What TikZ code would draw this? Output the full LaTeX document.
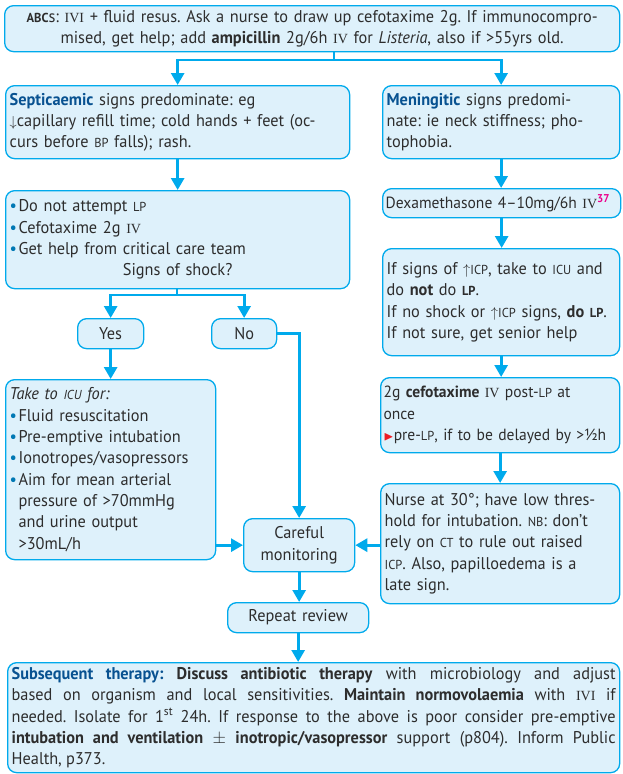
\documentclass[tikz,border=0pt]{standalone}
\usepackage{amssymb}
\usepackage{fontspec}
\setmainfont{PT Sans}[FakeStretch=0.96]
\newfontfamily\ivfont{Liberation Serif}
\usetikzlibrary{arrows.meta,positioning}
\definecolor{BoxBlue}{RGB}{222,241,251}
\definecolor{LineCyan}{RGB}{0,170,236}
\definecolor{HeadBlue}{RGB}{8,82,145}
\definecolor{DotBlue}{RGB}{0,120,180}
\definecolor{TextGray}{RGB}{45,45,45}
\definecolor{AlertRed}{RGB}{237,28,36}
\definecolor{RefPink}{RGB}{236,0,140}
\newcommand{\lsc}[1]{{\fontsize{13}{13}\selectfont #1}}
\newcommand{\ivsc}[1]{{\ivfont\fontsize{14}{14}\selectfont #1}}
\newcommand{\hd}[1]{\textcolor{HeadBlue}{\textbf{#1}}}
\newcommand{\bul}{\textcolor{DotBlue}{\textbullet}\hspace{1.5pt}}
\newcommand{\dnar}{{\fontsize{14.5}{14}\selectfont$\downarrow$}}
\newcommand{\upar}{{\fontsize{14.5}{14}\selectfont$\uparrow$}}

\begin{document}
\frenchspacing
\begin{tikzpicture}[x=1pt, y=-1pt,
		box/.style={draw=LineCyan, fill=BoxBlue, line width=1.3pt, rounded corners=9pt,
			inner xsep=4pt, inner ysep=1pt, text=TextGray, anchor=north west, align=left,
			font=\fontsize{17}{21.3}\selectfont},
		tight/.style={font=\fontsize{16.2}{21.3}\selectfont},
		flow/.style={draw=LineCyan, line width=2.8pt, -{Triangle[length=12pt,width=13pt]}},
		link/.style={draw=LineCyan, line width=2.8pt}]
	\useasboundingbox (0,0) rectangle (622,774);

	% top and the two branches
	\node[box, align=center, text width=607pt, minimum height=46pt] (abc) at (4,5)
		{{\bfseries\lsc{ABC}}s: \ivsc{IVI} + fluid resus. Ask a nurse to draw up cefotaxime 2g. If immunocompro-\\
		mised, get help; add \textbf{ampicillin} 2g/6h \ivsc{IV} for \textit{Listeria}, also if >55yrs old.};
	\node[box, text width=336pt, minimum height=73pt] (sept) at (5,85)
		{\hd{Septicaemic} signs predominate: eg\\
		\dnar capillary refill time; cold hands + feet (oc-\\
		curs before \lsc{BP} falls); rash.};
	\node[box, text width=229pt, minimum height=73pt] (men) at (382,85)
		{\hd{Meningitic} signs predomi-\\
		nate: ie neck stiffness; pho-\\
		tophobia.};

	% septicaemic side
	\node[box, text width=336pt, minimum height=98pt] (dnot) at (5,190)
		{\bul Do not attempt \lsc{LP}\\
		\bul Cefotaxime 2g \ivsc{IV}\\
		\bul Get help from critical care team\\
		\hbox to\hsize{\hfil Signs of shock?\hfil}};
	\node[box, align=center, text width=58pt, minimum height=30pt] (yes) at (77,318) {Yes};
	\node[box, align=center, text width=57pt, minimum height=30pt] (no) at (211,318) {No};
	\node[box, text width=202pt, minimum height=180pt] (icu) at (5,379)
		{\textit{Take to \lsc{ICU} for:}\\
		\bul Fluid resuscitation\\
		\bul Pre-emptive intubation\\
		\bul Ionotropes/vasopressors\\
		\bul Aim for mean arterial\\
		\phantom{\bul}pressure of >70mmHg\\
		\phantom{\bul}and urine output\\
		\phantom{\bul}>30mL/h};
	\node[box, align=center, text width=103pt, minimum height=53pt] (care) at (243,518)
		{Careful\\ monitoring};
	\node[box, align=center, text width=133pt, minimum height=30pt] (rep) at (227,602)
		{Repeat review};

	% meningitic side
	\node[box, tight, inner xsep=3pt, text width=232pt, minimum height=29pt] (dexa) at (382,188)
		{\mbox{Dexamethasone 4–10mg/6h \ivsc{IV}\textsuperscript{\textcolor{RefPink}{\textbf{37}}}}};
	\node[box, text width=229pt, minimum height=107pt] (icp) at (382,248)
		{If signs of \upar\lsc{ICP}, take to \lsc{ICU} and\\
		do \textbf{not} do \textbf{\lsc{LP}}.\\
		If no shock or \upar\lsc{ICP} signs, \textbf{do \lsc{LP}}.\\
		If not sure, get senior help};
	\node[box, tight, inner xsep=3pt, text width=233pt, minimum height=75pt] (cefo) at (380,377)
		{2g \textbf{cefotaxime} \ivsc{IV} post-\lsc{LP} at\\
		once\\
		\mbox{\textcolor{AlertRed}{\fontsize{13}{13}\selectfont$\blacktriangleright$}pre-\lsc{LP}, if to be delayed by >½h}};
	\node[box, text width=231pt, minimum height=120pt] (nurse) at (380,483)
		{Nurse at 30°; have low thres-\\
		hold for intubation. \lsc{NB}: don’t\\
		rely on \lsc{CT} to rule out raised\\
		\lsc{ICP}. Also, papilloedema is a\\
		late sign.};

	% bottom
	\node[box, align=justify, text width=604pt, minimum height=110pt] (sub) at (7,662)
		{\hd{Subsequent therapy:} \textbf{Discuss antibiotic therapy} with microbiology and adjust\linebreak
		based on organism and local sensitivities. \textbf{Maintain normovolaemia} with \ivsc{IVI} if\linebreak
		needed. Isolate for 1\textsuperscript{st} 24h. If response to the above is poor consider pre-emptive\linebreak
		\textbf{intubation and ventilation} $\pm$ \textbf{inotropic/vasopressor} support (p804). Inform Public\linebreak
		Health, p373.};

	% connectors
	\coordinate (topsplit) at (334,60);
	\draw[link] (abc.south -| topsplit) -- (topsplit);
	\draw[flow] (topsplit) -| (sept);
	\draw[flow] (topsplit) -| (men);
	\draw[flow] (sept.south) -- (sept.south |- dnot.north);
	\draw[flow] (men.south) -- (men.south |- dexa.north);
	\draw[flow] (dexa.south) -- (dexa.south |- icp.north);
	\draw[flow] (icp.south) -- (icp.south |- cefo.north);
	\draw[flow] (cefo.south) -- (cefo.south |- nurse.north);

	\coordinate (shocksplit) at (177,295);
	\draw[link] (dnot.south -| shocksplit) -- (shocksplit);
	\draw[flow] (shocksplit) -| (yes);
	\draw[flow] (shocksplit) -| (no);
	\draw[flow] (yes.south) -- (yes.south |- icu.north);
	\draw[flow] (no.east) -| (care);
	\draw[flow] (icu.east |- care.west) -- (care.west);
	\draw[flow] (nurse.west |- care.east) -- (care.east);
	\draw[flow] (care.south) -- (care.south |- rep.north);
	\draw[flow] (rep.south) -- (rep.south |- sub.north);
\end{tikzpicture}
\end{document}
